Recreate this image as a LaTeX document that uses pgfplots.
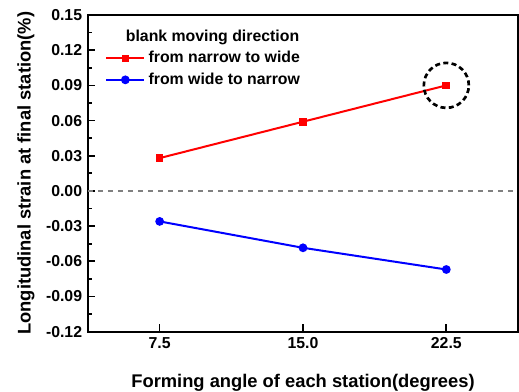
\documentclass[border=0pt]{standalone}
\usepackage{fontspec}
\setmainfont{Liberation Sans}
\usepackage{pgfplots}
\pgfplotsset{compat=1.18}
\begin{document}
\begin{tikzpicture}
\begin{axis}[
  scale only axis,
  width=258pt, height=190pt,
  xmin=3.75, xmax=26.25,
  ymin=-0.12, ymax=0.15,
  xtick={7.5,15,22.5},
  xticklabels={7.5,15.0,22.5},
  ytick={-0.12,-0.09,-0.06,-0.03,0,0.03,0.06,0.09,0.12,0.15},
  yticklabels={-0.12,-0.09,-0.06,-0.03,0.00,0.03,0.06,0.09,0.12,0.15},
  minor y tick num=1,
  tick align=inside,
  xtick pos=bottom, ytick pos=left,
  major tick length=4.5pt, minor tick length=2.5pt,
  tick style={line width=1pt, black},
  axis line style={line width=1.3pt},
  ticklabel style={font=\bfseries\fontsize{9.5}{11}\selectfont},
  /pgf/number format/assume math mode=true,
  xlabel={\bfseries Forming angle of each station(degrees)},
  ylabel={\bfseries Longitudinal strain at final station(\%)},
  label style={font=\bfseries\fontsize{11}{13}\selectfont},
  xlabel style={yshift=-8.5pt},
  ylabel style={yshift=0pt},
  legend style={draw=none, fill=none, at={(0.028,0.975)}, anchor=north west,
    font=\bfseries\fontsize{9.5}{11}\selectfont, row sep=0.5pt},
  legend cell align=left,
]
\addlegendimage{empty legend}
\addlegendentry{\hspace{-0.48cm}blank moving direction}
\addplot[red, line width=1.2pt, mark=square*, mark size=1.7pt,
  legend image code/.code={\draw[mark repeat=2,mark phase=2] plot coordinates {(0cm,0cm) (0.4cm,0cm) (0.8cm,0cm)};}] coordinates {
  (7.5,0.028) (15,0.059) (22.5,0.090)};
\addlegendentry{from narrow to wide}
\addplot[blue, line width=1.2pt, mark=*, mark size=2pt,
  legend image code/.code={\draw[mark repeat=2,mark phase=2] plot coordinates {(0cm,0cm) (0.4cm,0cm) (0.8cm,0cm)};}] coordinates {
  (7.5,-0.026) (15,-0.0485) (22.5,-0.067)};
\addlegendentry{from wide to narrow}
\addplot[gray, dashed, line width=0.8pt, forget plot] coordinates {(3.75,0) (26.25,0)};
\draw[black, dashed, line width=1.6pt, dash pattern=on 3pt off 2pt] (axis cs:22.5,0.090) circle[radius=13.5pt];
\end{axis}
\pgfresetboundingbox
\path[use as bounding box] ([shift={(-52.8pt,-36pt)}]current axis.south west) rectangle ([shift={(0.6pt,9pt)}]current axis.north east);
\end{tikzpicture}
\end{document}
